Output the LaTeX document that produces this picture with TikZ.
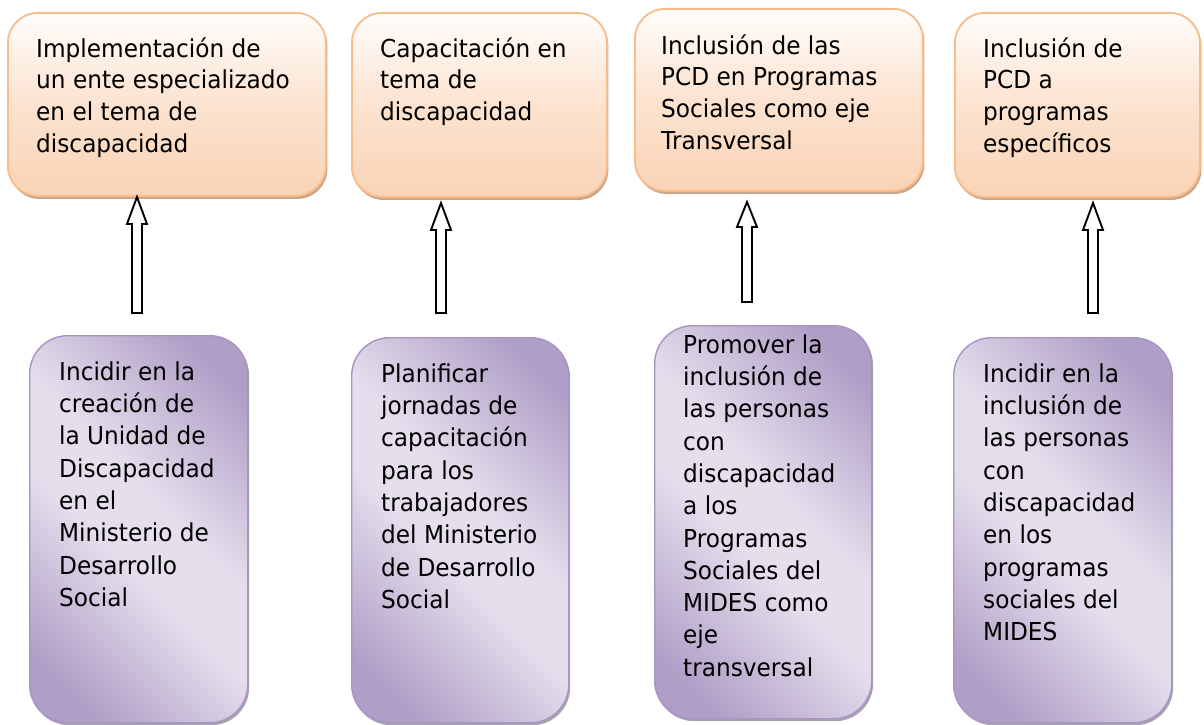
\documentclass[tikz,border=0pt]{standalone}
\usepackage{fontspec}
\setmainfont{DejaVu Sans}[FakeStretch=0.94]
\usetikzlibrary{shadows,calc}
\definecolor{orb}{HTML}{F8BC8A}
\definecolor{ortop}{HTML}{FFFDFB}
\definecolor{ormid}{HTML}{FCE3D0}
\definecolor{orbot}{HTML}{F9D3B5}
\definecolor{pud}{HTML}{AF9EC6}
\definecolor{pul}{HTML}{E5DFED}
\definecolor{pub}{HTML}{A894C4}
\definecolor{shor}{HTML}{C9A589}
\definecolor{shpu}{HTML}{A9A3B0}
\pgfdeclareverticalshading{purpshade}{100bp}{color(0bp)=(pud); color(22bp)=(pud);
  color(45bp)=(pul); color(55bp)=(pul); color(78bp)=(pud); color(100bp)=(pud)}
\newcommand\blockarrow[3]{%
  \draw[arrowline] (#2) -- ($(#2)+(10,#3)$) -- ($(#2)+(5,#3)$) -- ($(#1)+(5,0)$)
    -- ($(#1)+(-5,0)$) -- ($(#2)+(-5,#3)$) -- ($(#2)+(-10,#3)$) -- cycle;}
\begin{document}
\begin{tikzpicture}[x=1pt,y=-1pt,
  topbox/.style={draw=orb, line width=1.8pt, rounded corners=30pt,
    top color=ortop, bottom color=orbot, middle color=ormid,
    anchor=north west, inner sep=0pt,
    drop shadow={shadow xshift=1.5pt, shadow yshift=-3pt, fill=shor, opacity=1}},
  botbox/.style={draw=pub, line width=1.4pt, rounded corners=38pt,
    shading=purpshade, shading angle=-45,
    anchor=north west, inner sep=0pt,
    drop shadow={shadow xshift=1.5pt, shadow yshift=-2.5pt, fill=shpu, opacity=1}},
  ttxt/.style={anchor=north west, inner sep=0pt, align=left,
    font=\fontsize{24.7}{31.8}\selectfont},
  btxt/.style={anchor=north west, inner sep=0pt, align=left,
    font=\fontsize{24.7}{32.3}\selectfont},
  arrowline/.style={draw=black, line width=1.9pt, fill=white, line join=miter}
]
\fill[white] (0,0) rectangle (1204,725);
\useasboundingbox (0,0) rectangle (1204,725);

% top boxes
\node[topbox, minimum width=318, minimum height=183] (t1) at (7,12) {};
\node[topbox, minimum width=255, minimum height=184] (t2) at (351,12) {};
\node[topbox, minimum width=288, minimum height=182] (t3) at (634,8) {};
\node[topbox, minimum width=245, minimum height=184] (t4) at (954,12) {};

% bottom boxes
\node[botbox, minimum width=218, minimum height=387] (b1) at (29,335) {};
\node[botbox, minimum width=217, minimum height=385] (b2) at (351,337) {};
\node[botbox, minimum width=217, minimum height=393] (b3) at (654,325) {};
\node[botbox, minimum width=218, minimum height=385] (b4) at (953,337) {};

% texts
\node[ttxt] (t1x) at (36,34.7) {\strut Implementación de\\un ente especializado\\en el tema de\\discapacidad};
\node[ttxt] (t2x) at (380,34.7) {\strut Capacitación en\\tema de\\discapacidad};
\node[ttxt] (t3x) at (661,31.7) {\strut Inclusión de las\\PCD en Programas\\Sociales como eje\\Transversal};
\node[ttxt] (t4x) at (983,34.7) {\strut Inclusión de\\PCD a\\programas\\específicos};

\node[btxt] (b1x) at (59,357.4) {\strut Incidir en la\\creación de\\la Unidad de\\Discapacidad\\en el\\Ministerio de\\Desarrollo\\Social};
\node[btxt] (b2x) at (381,359.4) {\strut Planificar\\jornadas de\\capacitación\\para los\\trabajadores\\del Ministerio\\de Desarrollo\\Social};
\node[btxt] (b3x) at (683,330.4) {\strut Promover la\\inclusión de\\las personas\\con\\discapacidad\\a los\\Programas\\Sociales del\\MIDES como\\eje\\transversal};
\node[btxt] (b4x) at (983,359.4) {\strut Incidir en la\\inclusión de\\las personas\\con\\discapacidad\\en los\\programas\\sociales del\\MIDES};

% arrows
\coordinate (a1t) at (137,197); \coordinate (a1b) at (137,313);
\coordinate (a2t) at (441,203); \coordinate (a2b) at (441,313);
\coordinate (a3t) at (747,202); \coordinate (a3b) at (747,302);
\coordinate (a4t) at (1093,203); \coordinate (a4b) at (1093,313);
\blockarrow{a1b}{a1t}{27}
\blockarrow{a2b}{a2t}{27}
\blockarrow{a3b}{a3t}{25}
\blockarrow{a4b}{a4t}{27}
\end{tikzpicture}
\end{document}
